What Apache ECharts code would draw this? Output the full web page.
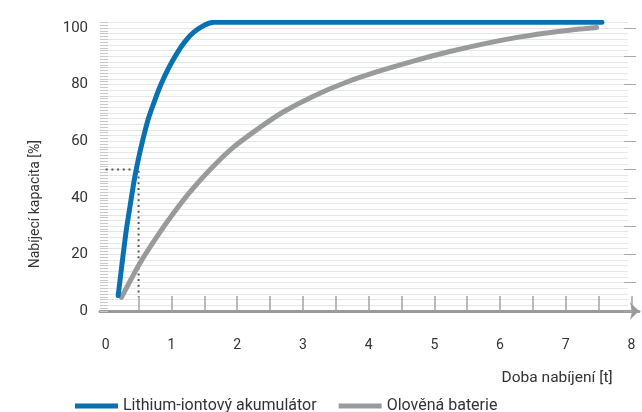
<!DOCTYPE html>
<html>
<head>
<meta charset="utf-8">
<script src="https://cdn.jsdelivr.net/npm/echarts@6/dist/echarts.min.js"></script>
<style>
  html, body { margin: 0; padding: 0; background: #fff; }
  #chart { width: 642px; height: 412px; }
</style>
</head>
<body>
<div id="chart"></div>
<script>
// charge curves: [time, capacity %]
const lithiumData = [
  [0.19, 5.5], [0.25, 17], [0.31, 28], [0.37, 37], [0.44, 47], [0.5, 54],
  [0.57, 61], [0.65, 68], [0.74, 74], [0.84, 80], [0.95, 85.5], [1.07, 90.5],
  [1.2, 95], [1.34, 98.5], [1.5, 101], [1.65, 102], [2.2, 102], [7.55, 102]
];
const leadData = [
  [0.24, 4.8], [0.52, 16.9], [0.78, 26.3], [1.03, 34.5], [1.28, 42.0], [1.59, 50.0],
  [1.94, 57.8], [2.35, 64.9], [2.7, 70.3], [3.16, 75.9], [3.67, 80.9], [4.17, 84.8],
  [4.68, 88.3], [5.19, 91.4], [5.7, 94.1], [6.2, 96.4], [6.71, 98.2], [7.21, 99.6],
  [7.47, 100.2]
];
// dotted helper line at 50 %
const guideData = [[0, 50], [0.5, 50], [0.5, 5]];

const seriesNames = ['Lithium-iontový akumulátor', 'Olověná baterie'];
const xLabelValues = [0, 1, 2, 3, 4, 5, 6, 7, 8];
const xTickValues = [0.5, 1, 1.5, 2, 2.5, 3, 3.5, 4, 4.5, 5, 5.5, 6, 6.5, 7, 7.5, 8];
const yLabelValues = [0, 20, 40, 60, 80, 100];
const yMajorTickValues = [0, 10, 20, 30, 40, 50, 60, 70, 80, 90, 100];

const textColor = '#333';
const font = 'Roboto';

const chart = echarts.init(document.getElementById('chart'), null, {renderer: 'canvas'});

const option = {
  backgroundColor: '#fff',
  animation: false,
  textStyle: {fontFamily: font},
  grid: [
    // grid 0: y scale, ticks and light grid lines
    {left: 108, right: 14, top: 22.3, bottom: 101},
    // grid 1: the curves
    {left: 105.7, right: 10.5, top: 22.3, bottom: 101},
    // grid 2: the x axis line with arrow
    {left: 100, right: 3, top: 22.3, bottom: 101}
  ],
  legend: {
    left: 70,
    top: 393,
    icon: 'rect',
    itemWidth: 43,
    itemHeight: 5,
    itemGap: 22,
    data: seriesNames,
    textStyle: {fontFamily: font, fontSize: 16, color: textColor}
  },
  xAxis: [
    {gridIndex: 0, type: 'value', min: 0, max: 1, show: false},
    {
      gridIndex: 1,
      type: 'value',
      min: 0,
      max: 8,
      interval: 0.5,
      name: 'Doba nabíjení [t]',
      nameLocation: 'middle',
      nameGap: 67,
      nameTextStyle: {
        fontFamily: font, fontSize: 15.5, color: textColor,
        align: 'left', verticalAlign: 'middle', padding: [0, 0, 0, 133]
      },
      axisLine: {show: false},
      axisTick: {
        show: true, inside: true, length: 15, customValues: xTickValues,
        lineStyle: {color: '#a3a3a3', width: 1.5}
      },
      axisLabel: {
        customValues: xLabelValues, margin: 27,
        fontFamily: font, fontSize: 14, color: textColor
      },
      splitLine: {show: false}
    },
    {
      gridIndex: 2,
      type: 'value',
      min: 0,
      max: 1,
      axisLine: {
        show: true, symbol: ['none', 'arrow'], symbolSize: [13, 9],
        lineStyle: {color: '#9a9a9a', width: 3}
      },
      axisTick: {show: false},
      axisLabel: {show: false},
      splitLine: {show: false}
    }
  ],
  yAxis: [
    {
      gridIndex: 0,
      type: 'value',
      min: 0,
      max: 102,
      interval: 2,
      name: 'Nabíjecí kapacita [%]',
      nameLocation: 'middle',
      nameGap: 73,
      nameRotate: 90,
      nameTextStyle: {
        fontFamily: font, fontSize: 14, color: textColor,
        align: 'center', verticalAlign: 'middle', padding: [0, 75, 0, 0]
      },
      axisLine: {show: false},
      axisTick: {show: true, length: 8, lineStyle: {color: '#c8c8c8'}},
      minorTick: {show: true, splitNumber: 2, length: 8, lineStyle: {color: '#c8c8c8'}},
      axisLabel: {
        customValues: yLabelValues, margin: 20, padding: [7, 0, 0, 0],
        fontFamily: font, fontSize: 15, color: textColor
      },
      splitLine: {show: true, lineStyle: {color: '#e6e6e6', width: 1}}
    },
    {
      // darker ticks every 10 %
      gridIndex: 0,
      type: 'value',
      min: 0,
      max: 102,
      offset: -4,
      axisLine: {show: false},
      axisTick: {show: true, length: 12, customValues: yMajorTickValues, lineStyle: {color: '#a8a8a8'}},
      axisLabel: {show: false},
      splitLine: {show: false}
    },
    {gridIndex: 1, type: 'value', min: 0, max: 102, show: false},
    {gridIndex: 2, type: 'value', min: 0, max: 1, show: false}
  ],
  series: [
    {
      name: 'guide',
      type: 'line',
      xAxisIndex: 1,
      yAxisIndex: 2,
      data: guideData,
      showSymbol: false,
      symbol: 'none',
      silent: true,
      lineStyle: {color: '#555', width: 2, type: [2, 3.7]},
      z: 1
    },
    {
      name: seriesNames[1],
      type: 'line',
      xAxisIndex: 1,
      yAxisIndex: 2,
      data: leadData,
      smooth: 0.3,
      showSymbol: false,
      symbol: 'none',
      color: '#999a9c',
      lineStyle: {color: '#999a9c', width: 5, cap: 'round'},
      z: 2
    },
    {
      name: seriesNames[0],
      type: 'line',
      xAxisIndex: 1,
      yAxisIndex: 2,
      data: lithiumData,
      smooth: 0.3,
      showSymbol: false,
      symbol: 'none',
      color: '#0a71b0',
      lineStyle: {color: '#0a71b0', width: 5, cap: 'round'},
      z: 3
    }
  ]
};

chart.setOption(option);
</script>
</body>
</html>
